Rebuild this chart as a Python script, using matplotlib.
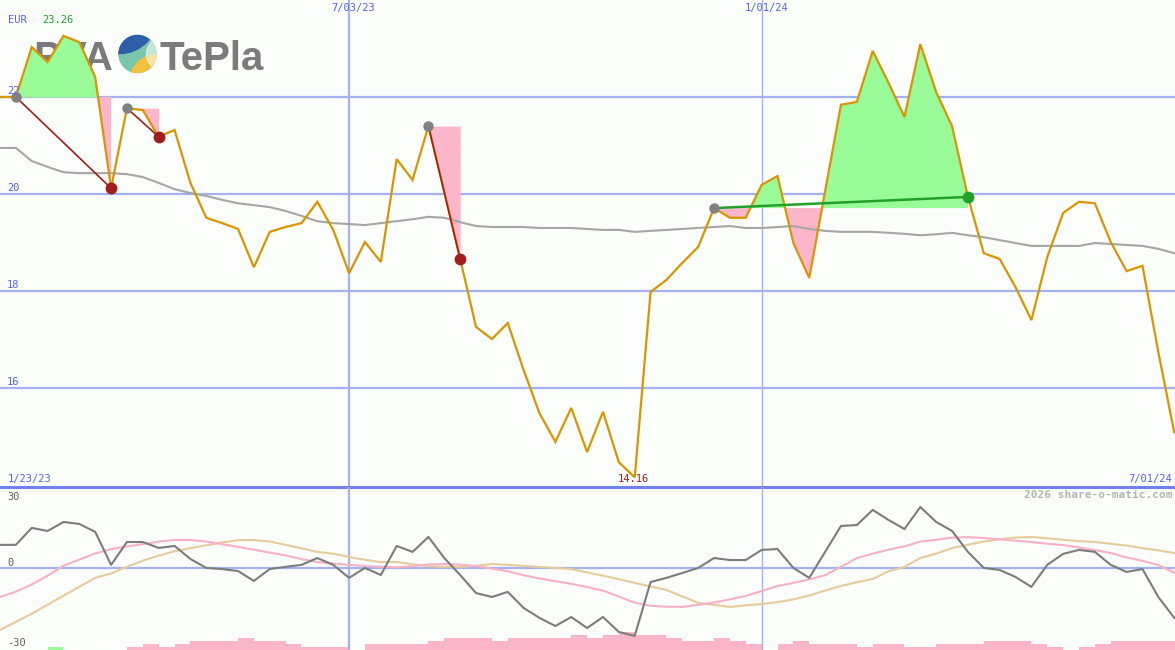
#!/usr/bin/env python3
import numpy as np
import pandas as pd
import matplotlib
matplotlib.use("Agg")
import matplotlib.pyplot as plt
import matplotlib.dates as mdates
from matplotlib.patches import Circle


W, H = 1175, 650

# weekly closes, EUR
weeks = pd.date_range("2023-01-30", periods=75, freq="7D")
price = [22.00, 22.00, 23.03, 22.72, 23.26, 23.13, 22.41, 20.12, 21.77, 21.73,
         21.18, 21.32, 20.23, 19.51, 19.40, 19.28, 18.49, 19.22, 19.32, 19.40,
         19.84, 19.26, 18.37, 19.01, 18.60, 20.72, 20.29, 21.40, 20.04, 18.66,
         17.26, 17.01, 17.34, 16.37, 15.48, 14.89, 15.59, 14.68, 15.51, 14.47,
         14.16, 17.98, 18.23, 18.58, 18.91, 19.71, 19.51, 19.51, 20.19, 20.37,
         18.99, 18.27, 20.06, 21.84, 21.90, 22.95, 22.29, 21.59, 23.09, 22.10,
         21.40, 19.94, 18.78, 18.66, 18.08, 17.40, 18.70, 19.61, 19.84, 19.81,
         19.01, 18.41, 18.52, 16.74, 15.09]
moving_avg = [20.95, 20.95, 20.68, 20.56, 20.45, 20.43, 20.43, 20.43, 20.41, 20.35,
              20.23, 20.10, 20.02, 19.96, 19.88, 19.81, 19.77, 19.73, 19.65, 19.55,
              19.44, 19.40, 19.38, 19.36, 19.40, 19.44, 19.48, 19.53, 19.51, 19.42,
              19.34, 19.32, 19.32, 19.32, 19.30, 19.30, 19.30, 19.28, 19.26, 19.26,
              19.22, 19.24, 19.26, 19.28, 19.30, 19.32, 19.34, 19.30, 19.30, 19.32,
              19.34, 19.28, 19.24, 19.22, 19.22, 19.22, 19.20, 19.18, 19.15, 19.17,
              19.20, 19.15, 19.11, 19.05, 18.99, 18.93, 18.93, 18.93, 18.93, 18.99,
              18.97, 18.95, 18.93, 18.87, 18.78]

# lower panel oscillators
momentum = [10.5, 10.5, 18.2, 16.8, 20.9, 20.0, 16.4, 1.4, 11.8, 11.8,
            9.1, 10.0, 4.1, 0.0, -0.5, -1.4, -5.9, -0.5, 0.5, 1.4,
            4.5, 1.4, -4.5, 0.0, -3.2, 10.0, 7.3, 14.1, 4.5, -3.2,
            -11.4, -13.2, -10.9, -18.2, -22.7, -26.4, -22.3, -27.3, -22.3, -29.1,
            -30.9, -6.4, -4.5, -2.3, 0.0, 4.5, 3.6, 3.6, 8.2, 8.6,
            0.0, -4.5, 7.3, 19.1, 19.5, 26.4, 21.8, 17.7, 27.7, 20.9,
            16.8, 7.3, 0.0, -0.9, -4.1, -8.6, 1.4, 6.4, 8.2, 7.3,
            1.4, -1.8, -0.5, -13.2, -22.7]
signal_fast = [-13.2, -10.8, -7.5, -3.5, 1.0, 3.8, 6.6, 8.5, 9.8, 10.8,
               12.0, 12.7, 12.7, 12.0, 10.8, 9.6, 8.3, 7.0, 5.7, 4.0,
               2.7, 2.0, 1.4, 0.9, 0.5, 0.3, 0.8, 1.6, 1.8, 1.5,
               0.9, -0.3, -1.5, -3.3, -4.8, -6.0, -7.2, -8.7, -10.3, -13.0,
               -15.8, -17.2, -17.6, -17.7, -16.8, -15.7, -14.3, -12.7, -10.5, -8.2,
               -6.8, -5.2, -3.3, 0.5, 4.5, 6.5, 8.3, 9.8, 12.0, 12.8,
               13.8, 14.0, 13.6, 13.0, 12.4, 11.8, 11.0, 10.4, 9.3, 8.1,
               6.8, 4.8, 3.2, 1.3, -2.2]
signal_slow = [-28.2, -24.5, -20.8, -16.7, -12.6, -8.6, -4.5, -2.5, 0.5, 3.3,
               5.6, 7.6, 9.0, 10.3, 11.6, 12.6, 12.7, 12.0, 10.5, 8.9,
               7.3, 6.5, 5.0, 3.7, 2.7, 2.7, 1.7, 0.8, 0.5, 0.5,
               1.0, 1.8, 1.4, 0.9, 0.5, 0.0, -0.5, -2.0, -3.5, -5.1,
               -6.8, -8.4, -10.0, -12.9, -15.9, -16.8, -17.7, -17.0, -16.4, -15.5,
               -14.3, -12.5, -10.3, -8.2, -6.5, -5.0, -1.5, 0.5, 4.5, 6.5,
               9.0, 10.5, 12.0, 13.0, 13.8, 14.1, 13.5, 12.8, 12.2, 11.8,
               11.0, 10.2, 9.0, 8.0, 6.8]
# small bars at the bottom, negative = pink
bar_levels = [0, 0, 0, 1, 0, 0, 0, 0, -1, -2,
              -1, -2, -3, -3, -3, -4, -3, -3, -2, -1,
              -1, -1, 0, -2, -2, -2, -2, -3, -4, -4,
              -4, -3, -4, -4, -4, -4, -5, -4, -5, -6,
              -5, -5, -4, -3, -3, -4, -3, -2, 0, -2,
              -3, -2, -2, -2, -1, -2, -2, -1, -1, -2,
              -2, -2, -3, -3, -3, -2, -1, 0, -1, -2,
              -3, -3, -3, -3, -3]

trade_entry = [1, 8, 27, 45]
trade_exit = [7, 10, 29, 61]

price_ticks = [16, 18, 20, 22]
date_lines = ["2023-07-03", "2024-01-01"]
date_labels = ["7/03/23", "1/01/24"]

BG = "#fbfefb"
GRID = "#a4b2f2"
SEP = "#7080ee"
BLUE_TXT = "#5464f0"
ORANGE = "#dc9400"
MA_GRAY = "#a6a6a6"
GREEN_FILL = "#98fb98"
PINK_FILL = "#fbb6ca"
DARK_RED = "#a41c1c"
WIN_GREEN = "#22a02a"
MONO = "DejaVu Sans Mono"


def fx(px):
    return px / W


def fy(py):
    return 1 - py / H


x = mdates.date2num(weeks)
x_left = x[0]
x_right = x[0] + 7 * 74.05

fig = plt.figure(figsize=(W / 100, H / 100), dpi=100)
fig.patch.set_facecolor(BG)

# ---- price panel
ax = fig.add_axes([0, fy(487), 1, 487 / H])
ax.set_facecolor(BG)
ax.set_xlim(x_left, x_right)
ax.set_ylim(13.96, 24.0)
ax.set_axis_off()

for t in price_ticks:
    ax.axhline(t, color=GRID, lw=1.6, zorder=1)
    ax.text(0.006, t + 0.03, str(t), transform=ax.get_yaxis_transform(),
            color=BLUE_TXT, fontsize=7.5, family=MONO, va="bottom", ha="left", zorder=7)
for d, lw in zip(date_lines, [1.6, 1.0]):
    ax.axvline(mdates.date2num(pd.Timestamp(d)), color=GRID, lw=lw, zorder=1)

# logo text, behind the chart marks
logo_kw = dict(color="#7b7b7b", fontsize=29, fontweight="bold",
               family="Liberation Sans", va="baseline", ha="left", zorder=0.5)
ax.text(fx(33), fy(70), "PVA", transform=fig.transFigure, **logo_kw)
ax.text(fx(159), fy(70), "TePla", transform=fig.transFigure, **logo_kw)

p = np.array(price)
for i0, i1 in zip(trade_entry, trade_exit):
    xs = x[i0:i1 + 1]
    ys = p[i0:i1 + 1]
    lvl = p[i0]
    ax.fill_between(xs, lvl, ys, where=ys >= lvl, interpolate=True,
                    color=GREEN_FILL, lw=0, zorder=2)
    ax.fill_between(xs, lvl, ys, where=ys <= lvl, interpolate=True,
                    color=PINK_FILL, lw=0, zorder=2)

ax.plot(x, moving_avg, color=MA_GRAY, lw=1.5, zorder=3)
ax.plot(x, price, color=ORANGE, lw=1.6, zorder=4, solid_joinstyle="miter")

for i0, i1 in zip(trade_entry, trade_exit):
    win = p[i1] > p[i0]
    col = WIN_GREEN if win else DARK_RED
    ax.plot([x[i0], x[i1]], [p[i0], p[i1]], color=col, lw=1.8 if win else 1.2, zorder=5)
    ax.plot(x[i0], p[i0], "o", color="#808080", ms=7.5, mew=0, zorder=6)
    ax.plot(x[i1], p[i1], "o", color=col, ms=8.5, mew=0, zorder=6)

ax.axhline(13.96, color=SEP, lw=2.2, zorder=8, clip_on=False)

# top/bottom labels
txt_kw = dict(fontsize=7.5, family=MONO)
fig.text(fx(8), fy(20), "EUR", color=BLUE_TXT, va="center", ha="left", **txt_kw)
imax = int(np.argmax(p))
imin = int(np.argmin(p))
fig.text(fx(42), fy(20), f"{p[imax]:.2f}", color=WIN_GREEN, va="center", ha="left", **txt_kw)
fig.text(fx(353), fy(8), date_labels[0], color=BLUE_TXT, va="center", ha="center", **txt_kw)
fig.text(fx(767), fy(8), date_labels[1], color=BLUE_TXT, va="center", ha="center", **txt_kw)
fig.text(fx(8), fy(479), "1/23/23", color=BLUE_TXT, va="center", ha="left", **txt_kw)
fig.text(fx(1172), fy(479), "7/01/24", color=BLUE_TXT, va="center", ha="right", **txt_kw)
ax.text(x[imin] - 0.6, 14.02, f"{p[imin]:.2f}", color=DARK_RED, va="bottom", ha="center", **txt_kw)
fig.text(fx(1172), fy(495), "2026 share-o-matic.com", color="#b4b4b4", fontweight="bold",
         va="center", ha="right", fontsize=8, family=MONO)

# logo emblem: blue top-left, teal band, yellow bottom-right, faded right side
lax = fig.add_axes([fx(117.5), fy(74), 40 / W, 40 / H])
lax.set_xlim(-1, 1)
lax.set_ylim(-1, 1)
lax.set_axis_off()
clip = Circle((0, 0), 0.96, transform=lax.transData)
for patch in [
    Circle((0, 0), 0.96, color="#7ac6ad", zorder=1),
    Circle((-0.9, 1.9), 1.88, color="#2f5ea9", zorder=2),
    Circle((0.9, -1.3), 1.25, color="#f2c23e", zorder=3),
    Circle((1.3, 0.0), 0.85, color="white", alpha=0.55, zorder=4),
]:
    lax.add_patch(patch)
    patch.set_clip_path(clip)

# ---- indicator panel
ax2 = fig.add_axes([0, 0, 1, 163 / H])
ax2.set_facecolor(BG)
ax2.set_xlim(x_left, x_right)
ax2.set_ylim(-37.3, 36.8)
ax2.set_axis_off()

ax3 = ax2.twinx()
ax3.set_ylim(0, 54)
ax3.set_axis_off()
bl = np.array(bar_levels)
ax3.bar(x, np.abs(bl), width=7, align="edge", lw=0,
        color=[GREEN_FILL if v > 0 else PINK_FILL for v in bl], zorder=1)

ax2.set_zorder(ax3.get_zorder() + 1)
ax2.patch.set_visible(False)
ax2.axhline(0, color=GRID, lw=1.6, zorder=1)
for d, lw in zip(date_lines, [1.6, 1.0]):
    ax2.axvline(mdates.date2num(pd.Timestamp(d)), color=GRID, lw=lw, zorder=1)
ax2.plot(x, signal_slow, color="#e6cc9c", lw=1.5, zorder=2)
ax2.plot(x, signal_fast, color="#f8b0c8", lw=1.5, zorder=3)
ax2.plot(x, momentum, color="#7c7c7c", lw=1.5, zorder=4)

for v, va in [(30, "bottom"), (0, "bottom"), (-30, "top")]:
    ax2.text(0.006, v - (2 if v < 0 else 0), str(v), transform=ax2.get_yaxis_transform(),
             color="#606060", fontsize=7.5, family=MONO, va=va, ha="left")

fig.savefig("out.png", dpi=100, facecolor=BG)
